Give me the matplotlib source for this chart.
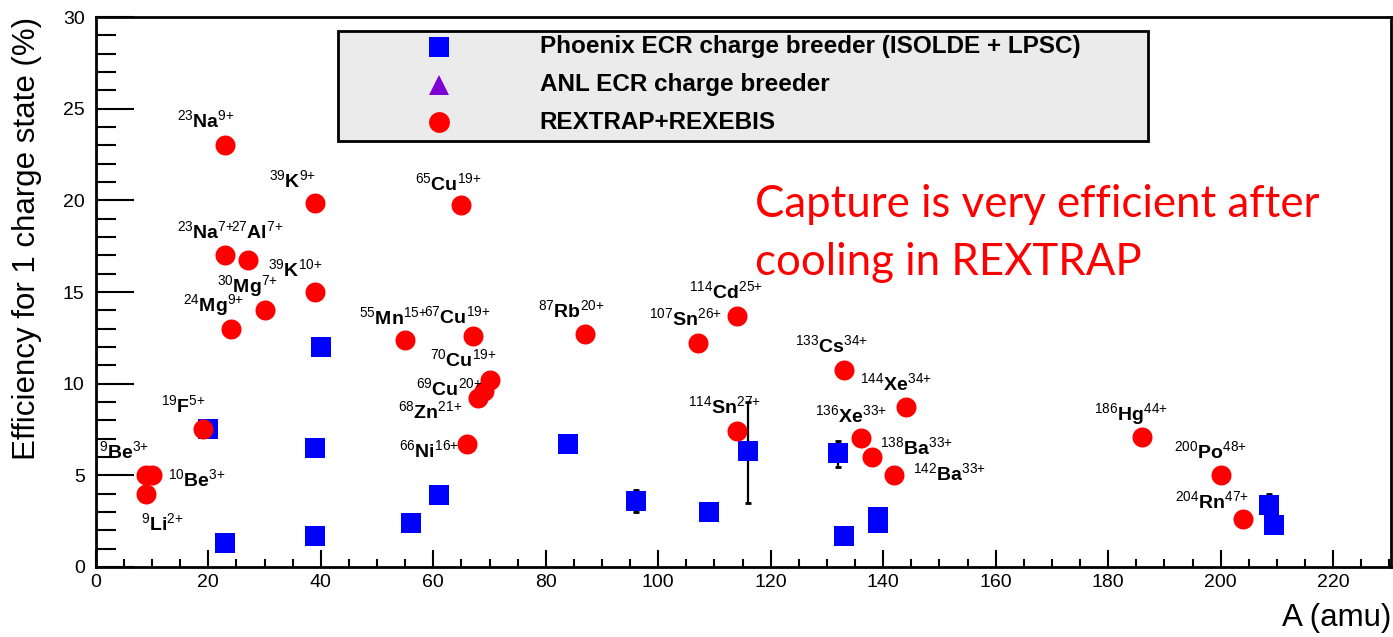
import numpy as np
import matplotlib
matplotlib.use("Agg")
import matplotlib.pyplot as plt
from matplotlib.patches import Rectangle

plt.rcParams['font.family'] = ['Liberation Sans', 'DejaVu Sans']
plt.rcParams['mathtext.fontset'] = 'custom'
plt.rcParams['mathtext.rm'] = 'Liberation Sans'
plt.rcParams['mathtext.it'] = 'Liberation Sans:italic'
plt.rcParams['mathtext.bf'] = 'Liberation Sans:bold'

# Phoenix ECR charge breeder (ISOLDE + LPSC)
blue_A = [20, 23, 39, 39, 40, 56, 61, 84, 96, 109, 116, 132, 133, 139, 139, 208.6, 209.5]
blue_eff = [7.5, 1.3, 6.5, 1.7, 12.0, 2.4, 3.9, 6.7, 3.6, 3.0, 6.3, 6.2, 1.7, 2.7, 2.4, 3.4, 2.3]
blue_err_lo = [0, 0, 0, 0, 0, 0, 0, 0, 0.62, 0, 2.8, 0.75, 0, 0, 0, 0.6, 0]
blue_err_hi = [0, 0, 0, 0, 0, 0, 0, 0, 0.62, 0, 2.7, 0.68, 0, 0, 0, 0.6, 0]

# REXTRAP+REXEBIS
red_A = [23, 39, 65, 23, 27, 39, 30, 24, 55, 67, 87, 107, 114, 133, 144,
         136, 138, 142, 114, 70, 69, 68, 66, 19, 9, 10, 9, 186, 200, 204]
red_eff = [23.0, 19.85, 19.75, 17.0, 16.75, 15.0, 14.0, 13.0, 12.4, 12.6, 12.7, 12.2, 13.7, 10.75, 8.7,
           7.05, 6.0, 5.0, 7.4, 10.2, 9.6, 9.2, 6.7, 7.55, 5.0, 5.0, 4.0, 7.1, 5.0, 2.6]
red_elem = ['Na', 'K', 'Cu', 'Na', 'Al', 'K', 'Mg', 'Mg', 'Mn', 'Cu', 'Rb', 'Sn', 'Cd', 'Cs', 'Xe',
            'Xe', 'Ba', 'Ba', 'Sn', 'Cu', 'Cu', 'Zn', 'Ni', 'F', 'Be', 'Be', 'Li', 'Hg', 'Po', 'Rn']
red_q = [9, 9, 19, 7, 7, 10, 7, 9, 15, 19, 20, 26, 25, 34, 34,
         33, 33, 33, 27, 19, 20, 21, 16, 5, 3, 3, 2, 44, 48, 47]

# label placement (pixels, relative to the point)
label_off = [(-19, 18), (-23, 16), (-13, 15), (-19, 17), (10, 22), (-20, 16), (-17, 18), (-17, 18),
             (-12, 16), (-15, 13), (-14, 17), (-12, 18), (-11, 18), (-12, 18), (-10, 17),
             (-10, 16), (45, 3), (55, -5), (-12, 18), (-26, 14), (-35, -4), (-48, -20), (-38, -13),
             (-19, 16), (-22, 17), (45, -11), (16, -36), (-11, 17), (-10, 17), (-31, 11)]

legend_labels = ['Phoenix ECR charge breeder (ISOLDE + LPSC)', 'ANL ECR charge breeder', 'REXTRAP+REXEBIS']

fig = plt.figure(figsize=(13.93, 6.37), dpi=100)
ax = fig.add_axes([0.0688, 0.1099, 0.9298, 0.8634])

# error bars below the squares
lo = np.array(blue_err_lo)
hi = np.array(blue_err_hi)
m = (lo > 0) | (hi > 0)
ax.errorbar(np.array(blue_A)[m], np.array(blue_eff)[m], yerr=[lo[m], hi[m]], fmt='none',
            ecolor='black', elinewidth=1.6, capsize=2.5, capthick=2, zorder=2)
ax.plot(blue_A, blue_eff, 's', color='#0000ff', markersize=14.4, markeredgewidth=0, zorder=3)
ax.plot(red_A, red_eff, 'o', color='#ff0000', markersize=14.4, markeredgewidth=0, zorder=4)

for A, e, el, q, off in zip(red_A, red_eff, red_elem, red_q, label_off):
    ax.annotate(r"$^{%d}$%s$^{%d{+}}$" % (A, el, q), (A, e), xytext=off, textcoords='offset pixels',
                ha='center', va='baseline', fontsize=14, fontweight='bold', zorder=5)

ax.set_xlim(0, 230.3)
ax.set_ylim(0, 30)
ax.set_xticks(np.arange(0, 221, 20))
ax.set_xticks(np.arange(0, 231, 5), minor=True)
ax.set_yticks(np.arange(0, 31, 5))
ax.set_yticks(np.arange(0, 31, 1), minor=True)
ax.tick_params(axis='both', which='both', direction='in', top=False, right=False, width=1.5, labelsize=14)
ax.tick_params(axis='x', which='major', length=12, pad=5)
ax.tick_params(axis='x', which='minor', length=6)
ax.tick_params(axis='y', which='major', length=27, pad=8)
ax.tick_params(axis='y', which='minor', length=14.4)
for s in ax.spines.values():
    s.set_linewidth(2)

ax.set_ylabel('Efficiency for 1 charge state (%)', fontsize=22.5, loc='top', labelpad=15)
ax.set_xlabel('A (amu)', fontsize=22.5, loc='right', labelpad=9)

# legend box
ax.add_patch(Rectangle((0.1869, 0.7745), 0.6258, 0.2, transform=ax.transAxes,
                       facecolor='#ebebeb', edgecolor='black', linewidth=2, zorder=6))
rows = [0.9455, 0.8764, 0.8091]
styles = [('s', '#0000ff'), ('^', '#7f00d4'), ('o', '#ff0000')]
for yy, (mk, c), lab in zip(rows, styles, legend_labels):
    ax.plot([0.265], [yy], mk, color=c, markersize=15, markeredgewidth=0,
            transform=ax.transAxes, zorder=7, clip_on=False)
    ax.text(0.3427, yy, lab, transform=ax.transAxes, fontsize=17.5, fontweight='bold',
            va='center', ha='left', zorder=7)

ax.text(0.5086, 0.636, 'Capture is very efficient after', transform=ax.transAxes,
        color='#ff0000', fontsize=31.5, family='Lato', va='baseline', ha='left')
ax.text(0.5086, 0.531, 'cooling in REXTRAP', transform=ax.transAxes,
        color='#ff0000', fontsize=31.5, family='Lato', va='baseline', ha='left')

fig.savefig('out.png', dpi=100)
